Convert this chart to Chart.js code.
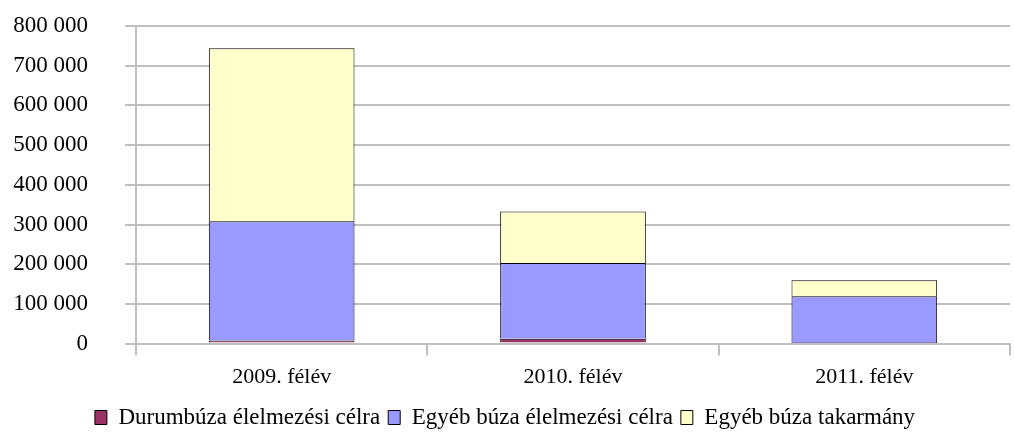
<!DOCTYPE html>
<html>
<head>
<meta charset="utf-8">
<script src="https://cdn.jsdelivr.net/npm/chart.js@4"></script>
<style>
  html, body { margin: 0; padding: 0; background: #fff; }
  #wrap { width: 1014px; height: 432px; }
</style>
</head>
<body>
<div id="wrap"><canvas id="chart"></canvas></div>
<script>
// values
const categories = ['2009. félév', '2010. félév', '2011. félév'];
const durum = [8000, 12000, 1500];
const egyebElelmezesi = [300000, 191000, 118000];
const egyebTakarmany = [436000, 130000, 40000];
const seriesNames = ['Durumbúza élelmezési célra', 'Egyéb búza élelmezési célra', 'Egyéb búza takarmány'];

const ctx = document.getElementById('chart').getContext('2d');
const fontFamily = '"Liberation Serif", "DejaVu Serif", serif';

const myChart = new Chart(ctx, {
    type: 'bar',
    data: {
        labels: categories,
        datasets: [{
            label: seriesNames[0],
            data: durum,
            backgroundColor: '#993366',
            borderColor: '#000000',
            borderWidth: 1
        }, {
            label: seriesNames[1],
            data: egyebElelmezesi,
            backgroundColor: '#9999FF',
            borderColor: '#000000',
            borderWidth: 1
        }, {
            label: seriesNames[2],
            data: egyebTakarmany,
            backgroundColor: '#FFFFCC',
            borderColor: '#000000',
            borderWidth: 1
        }]
    },
    options: {
        responsive: true,
        maintainAspectRatio: false,
        animation: false,
        barPercentage: 0.5,
        categoryPercentage: 1,
        layout: { padding: { left: 0, right: 4, top: 0, bottom: -7 } },
        plugins: {
            tooltip: { enabled: false },
            legend: {
                position: 'bottom',
                labels: {
                    color: '#000',
                    font: { family: fontFamily, size: 23 },
                    boxWidth: 12,
                    boxHeight: 14,
                    padding: 8
                }
            }
        },
        scales: {
            x: {
                stacked: true,
                offset: true,
                border: { color: '#bfbfbf', width: 2 },
                grid: {
                    offset: true,
                    drawOnChartArea: false,
                    drawTicks: true,
                    tickLength: 12,
                    color: '#bfbfbf',
                    lineWidth: 2
                },
                ticks: {
                    color: '#000',
                    font: { family: fontFamily, size: 22 },
                    padding: 8
                }
            },
            y: {
                stacked: true,
                min: 0,
                max: 800000,
                border: { color: '#bfbfbf', width: 2 },
                grid: {
                    color: '#bfbfbf',
                    lineWidth: 2,
                    tickLength: 11
                },
                ticks: {
                    stepSize: 100000,
                    color: '#000',
                    padding: 37,
                    font: { family: fontFamily, size: 23 },
                    callback: v => String(v).replace(/\B(?=(\d{3})+(?!\d))/g, ' ')
                },
                afterFit(scale) {
                    // axis line sits at x=136, labels end near x=88
                    scale.width = 136;
                    scale.paddingTop = 26;
                    scale.paddingBottom = 12;
                }
            }
        }
    }
});
</script>
</body>
</html>
